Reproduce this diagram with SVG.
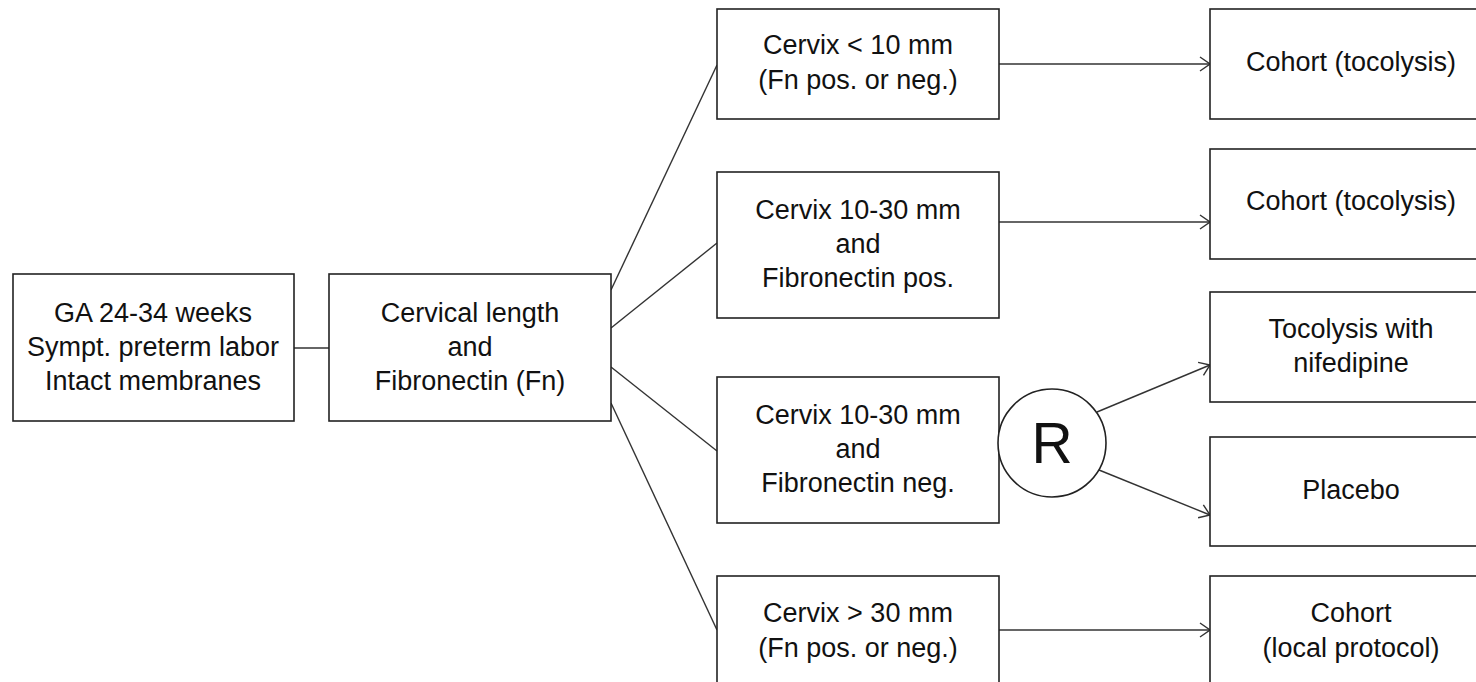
<svg xmlns="http://www.w3.org/2000/svg" width="1476" height="682" viewBox="0 0 1476 682">
<style>
.box{fill:#fff;stroke:#222;stroke-width:1.6}
.ln{fill:none;stroke:#333;stroke-width:1.4}
text{font-family:"Liberation Sans",Arial,sans-serif;font-size:27px;fill:#111;text-anchor:middle}
.big{font-size:57px}
</style>
<defs>
<marker id="arr" viewBox="0 0 12 16" refX="11" refY="8" markerWidth="12" markerHeight="16" markerUnits="userSpaceOnUse" orient="auto">
<path d="M1,1 L11,8 L1,15" fill="none" stroke="#333" stroke-width="1.4"/>
</marker>
</defs>
<rect width="1476" height="682" fill="#fff"/>
<g id="connectors">
<line class="ln" x1="294" y1="348" x2="329" y2="348"/>
<line class="ln" x1="611" y1="290" x2="717" y2="65"/>
<line class="ln" x1="611" y1="328" x2="717" y2="243"/>
<line class="ln" x1="611" y1="367" x2="717" y2="451"/>
<line class="ln" x1="611" y1="403" x2="717" y2="630"/>
<line class="ln" x1="999" y1="64" x2="1210" y2="64" marker-end="url(#arr)"/>
<line class="ln" x1="999" y1="222" x2="1210" y2="222" marker-end="url(#arr)"/>
<line class="ln" x1="999" y1="630" x2="1210" y2="630" marker-end="url(#arr)"/>
<line class="ln" x1="1097" y1="412" x2="1210" y2="365" marker-end="url(#arr)"/>
<line class="ln" x1="1099" y1="470" x2="1210" y2="515" marker-end="url(#arr)"/>
</g>
<g id="nodeA"><rect class="box" x="13" y="274" width="281" height="147"/>
<text x="153" y="322">GA 24-34 weeks</text><text x="153" y="356">Sympt. preterm labor</text><text x="153" y="390">Intact membranes</text></g>
<g id="nodeB"><rect class="box" x="329" y="274" width="282" height="147"/>
<text x="470" y="322">Cervical length</text><text x="470" y="356">and</text><text x="470" y="390">Fibronectin (Fn)</text></g>
<g id="nodeC1"><rect class="box" x="717" y="9" width="282" height="110"/>
<text x="858" y="54">Cervix &lt; 10 mm</text><text x="858" y="89">(Fn pos. or neg.)</text></g>
<g id="nodeC2"><rect class="box" x="717" y="172" width="282" height="146"/>
<text x="858" y="219">Cervix 10-30 mm</text><text x="858" y="253">and</text><text x="858" y="287">Fibronectin pos.</text></g>
<g id="nodeC3"><rect class="box" x="717" y="377" width="282" height="146"/>
<text x="858" y="424">Cervix 10-30 mm</text><text x="858" y="458">and</text><text x="858" y="492">Fibronectin neg.</text></g>
<g id="nodeC4"><rect class="box" x="717" y="576" width="282" height="120"/>
<text x="858" y="622">Cervix &gt; 30 mm</text><text x="858" y="657">(Fn pos. or neg.)</text></g>
<g id="nodeR"><circle class="box" cx="1052" cy="443" r="54"/>
<text class="big" x="1052" y="463">R</text></g>
<g id="nodeD1"><rect class="box" x="1210" y="9" width="280" height="110"/>
<text x="1351" y="71">Cohort (tocolysis)</text></g>
<g id="nodeD2"><rect class="box" x="1210" y="149" width="280" height="110"/>
<text x="1351" y="210">Cohort (tocolysis)</text></g>
<g id="nodeD3"><rect class="box" x="1210" y="292" width="280" height="110"/>
<text x="1351" y="338">Tocolysis with</text><text x="1351" y="372">nifedipine</text></g>
<g id="nodeD4"><rect class="box" x="1210" y="437" width="280" height="109"/>
<text x="1351" y="499">Placebo</text></g>
<g id="nodeD5"><rect class="box" x="1210" y="576" width="280" height="120"/>
<text x="1351" y="622">Cohort</text><text x="1351" y="657">(local protocol)</text></g>
</svg>
